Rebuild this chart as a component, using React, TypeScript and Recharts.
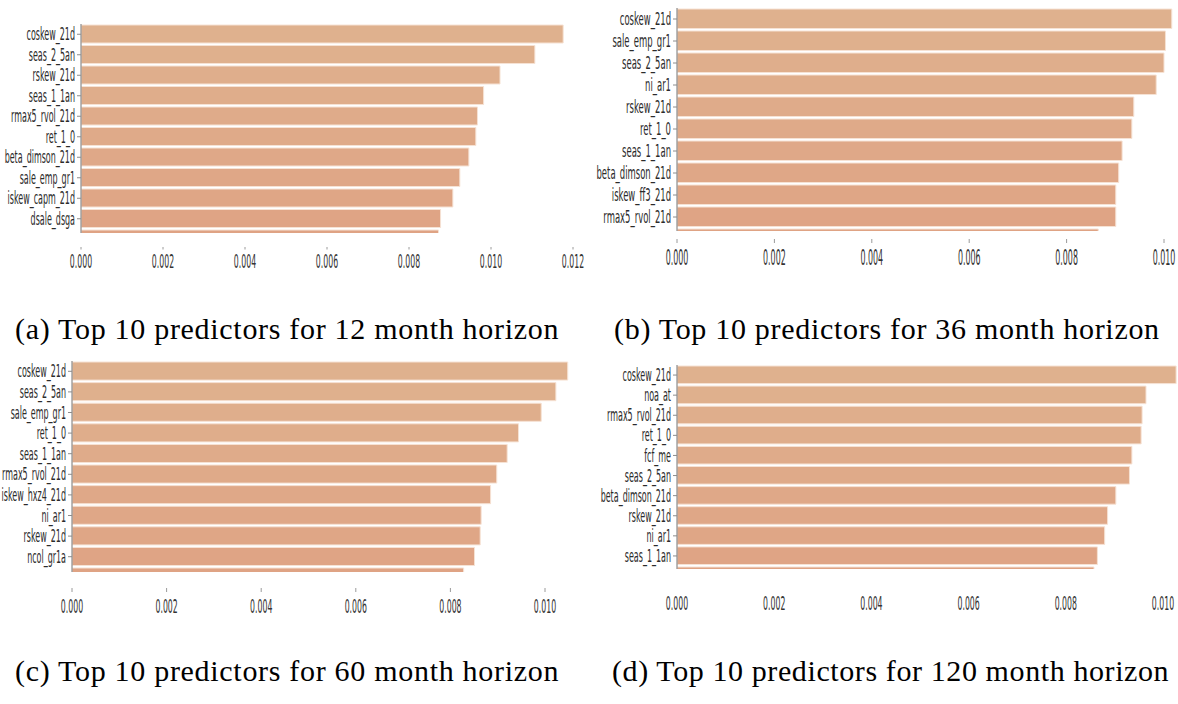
import React from 'react'
import { BarChart, Bar, XAxis, YAxis, Cell } from 'recharts'

// top-10 predictor importances per horizon (11th entry is the clipped bar at the bottom)
const h12Names = ['coskew_21d', 'seas_2_5an', 'rskew_21d', 'seas_1_1an', 'rmax5_rvol_21d', 'ret_1_0', 'beta_dimson_21d', 'sale_emp_gr1', 'iskew_capm_21d', 'dsale_dsga', '']
const h12Values = [0.01176, 0.01107, 0.01022, 0.00982, 0.00967, 0.00963, 0.00946, 0.00924, 0.00907, 0.00877, 0.00872]

const h36Names = ['coskew_21d', 'sale_emp_gr1', 'seas_2_5an', 'ni_ar1', 'rskew_21d', 'ret_1_0', 'seas_1_1an', 'beta_dimson_21d', 'iskew_ff3_21d', 'rmax5_rvol_21d', '']
const h36Values = [0.01016, 0.01003, 0.01, 0.00984, 0.00938, 0.00934, 0.00914, 0.00907, 0.00901, 0.00901, 0.00865]

const h60Names = ['coskew_21d', 'seas_2_5an', 'sale_emp_gr1', 'ret_1_0', 'seas_1_1an', 'rmax5_rvol_21d', 'iskew_hxz4_21d', 'ni_ar1', 'rskew_21d', 'ncol_gr1a', '']
const h60Values = [0.01048, 0.01023, 0.00992, 0.00944, 0.0092, 0.00898, 0.00885, 0.00865, 0.00863, 0.00851, 0.00828]

const h120Names = ['coskew_21d', 'noa_at', 'rmax5_rvol_21d', 'ret_1_0', 'fcf_me', 'seas_2_5an', 'beta_dimson_21d', 'rskew_21d', 'ni_ar1', 'seas_1_1an', '']
const h120Values = [0.01027, 0.00965, 0.00957, 0.00955, 0.00936, 0.00931, 0.00903, 0.00886, 0.0088, 0.00865, 0.00858]

const ticks12 = [0, 0.002, 0.004, 0.006, 0.008, 0.01, 0.012]
const ticks10 = [0, 0.002, 0.004, 0.006, 0.008, 0.01]
const rankTicks = [0, 1, 2, 3, 4, 5, 6, 7, 8, 9]

const captions = [
  '(a) Top 10 predictors for 12 month horizon',
  '(b) Top 10 predictors for 36 month horizon',
  '(c) Top 10 predictors for 60 month horizon',
  '(d) Top 10 predictors for 120 month horizon',
]

// light tan -> salmon, top to bottom
const palette = ['#dfb18e', '#dfb08d', '#dfae8c', '#dfad8b', '#dfab8a', '#dfaa89', '#dfa888', '#dfa787', '#dfa686', '#dfa485', '#dfa384']

const fmt = (v: number) => v.toFixed(3)

interface PanelProps {
  names: string[]
  values: number[]
  xTicks: number[]
  xMax: number
  left: number
  top: number
  width: number
  height: number
  plotLeft: number
  plotTop: number
  plotBottom: number
  step: number
  pxPerUnit: number
  markFrom: number
  markTo: number
  labelDy: number
  xFont: number
  xScale: number
  yFont: number
  yScale: number
}

function Panel(p: PanelProps) {
  const data = p.values.map((v, i) => ({ rank: i, name: p.names[i], value: v }))
  const plotRight = p.plotLeft + p.xMax * p.pxPerUnit
  const yMax = (p.plotBottom - p.plotTop) / p.step - 0.5

  const yTick = (t: any) => (
    <g transform={`translate(${t.x},${t.y}) scale(${p.yScale},1)`}>
      <text x={0} y={0} dy="0.36em" textAnchor="end" fontSize={p.yFont} fill="#2b2b2b" fontFamily="DejaVu Sans">
        {p.names[t.payload.value]}
      </text>
    </g>
  )

  const xTick = (t: any) => (
    <g>
      {p.markTo > p.markFrom && (
        <line x1={t.x} x2={t.x} y1={t.y + p.markFrom} y2={t.y + p.markTo} stroke="#9a9a9a" strokeWidth={1} />
      )}
      <g transform={`translate(${t.x},${t.y + p.labelDy}) scale(${p.xScale},1)`}>
        <text x={0} y={0} textAnchor="middle" fontSize={p.xFont} fill="#333" fontFamily="DejaVu Sans">
          {fmt(t.payload.value)}
        </text>
      </g>
    </g>
  )

  return (
    <div style={{ position: 'absolute', left: p.left, top: p.top }}>
      <BarChart
        width={p.width}
        height={p.height}
        data={data}
        layout="vertical"
        margin={{ top: p.plotTop - p.top, right: p.left + p.width - plotRight, bottom: 0, left: 0 }}
      >
        <XAxis
          type="number"
          dataKey="value"
          domain={[0, p.xMax]}
          allowDataOverflow
          ticks={p.xTicks}
          interval={0}
          axisLine={false}
          tickLine={false}
          tickSize={0}
          tickMargin={0}
          height={p.top + p.height - p.plotBottom}
          tick={xTick}
        />
        <YAxis
          type="number"
          dataKey="rank"
          domain={[-0.5, yMax]}
          allowDataOverflow
          ticks={rankTicks}
          interval={0}
          width={p.plotLeft - p.left}
          axisLine={{ stroke: '#8c8c8c', strokeWidth: 1.2 }}
          tickLine={{ stroke: '#8c8c8c' }}
          tickSize={4}
          tickMargin={2}
          tick={yTick}
        />
        <Bar dataKey="value" barSize={p.step - 2.5} stroke="#f6e2d4" strokeWidth={1} isAnimationActive={false}>
          {data.map((d, i) => (
            <Cell key={d.rank} fill={palette[i]} />
          ))}
        </Bar>
      </BarChart>
    </div>
  )
}

const captionStyle: React.CSSProperties = {
  position: 'absolute',
  fontFamily: '"Liberation Serif", serif',
  fontSize: 30,
  lineHeight: '32px',
  letterSpacing: 0.7,
  whiteSpace: 'nowrap',
  color: '#000',
}

export default function App() {
  return (
    <div style={{ position: 'absolute', left: 0, top: 0, width: 1178, height: 704, background: '#fff', overflow: 'hidden' }}>
      <Panel
        names={h12Names} values={h12Values} xTicks={ticks12} xMax={0.0124}
        left={0} top={0} width={600} height={285}
        plotLeft={81} plotTop={24} plotBottom={233} step={20.5} pxPerUnit={41000}
        markFrom={14} markTo={16.5} labelDy={35} xFont={19} xScale={0.41} yFont={17} yScale={0.47}
      />
      <Panel
        names={h36Names} values={h36Values} xTicks={ticks10} xMax={0.01025}
        left={590} top={0} width={588} height={285}
        plotLeft={677} plotTop={8} plotBottom={231} step={22} pxPerUnit={48700}
        markFrom={8} markTo={12} labelDy={34} xFont={22} xScale={0.36} yFont={18} yScale={0.47}
      />
      <Panel
        names={h60Names} values={h60Values} xTicks={ticks10} xMax={0.0107}
        left={0} top={345} width={600} height={285}
        plotLeft={72} plotTop={361} plotBottom={572} step={20.6} pxPerUnit={47300}
        markFrom={16} markTo={20} labelDy={41} xFont={19} xScale={0.41} yFont={17} yScale={0.47}
      />
      <Panel
        names={h120Names} values={h120Values} xTicks={ticks10} xMax={0.0103}
        left={590} top={345} width={588} height={285}
        plotLeft={677} plotTop={365} plotBottom={569} step={20.1} pxPerUnit={48600}
        markFrom={0} markTo={0} labelDy={41} xFont={19} xScale={0.41} yFont={17} yScale={0.47}
      />
      <div style={{ ...captionStyle, left: 15, top: 313 }}>{captions[0]}</div>
      <div style={{ ...captionStyle, left: 614, top: 313 }}>{captions[1]}</div>
      <div style={{ ...captionStyle, left: 15, top: 655 }}>{captions[2]}</div>
      <div style={{ ...captionStyle, left: 612, top: 655, letterSpacing: 0.6 }}>{captions[3]}</div>
    </div>
  )
}
